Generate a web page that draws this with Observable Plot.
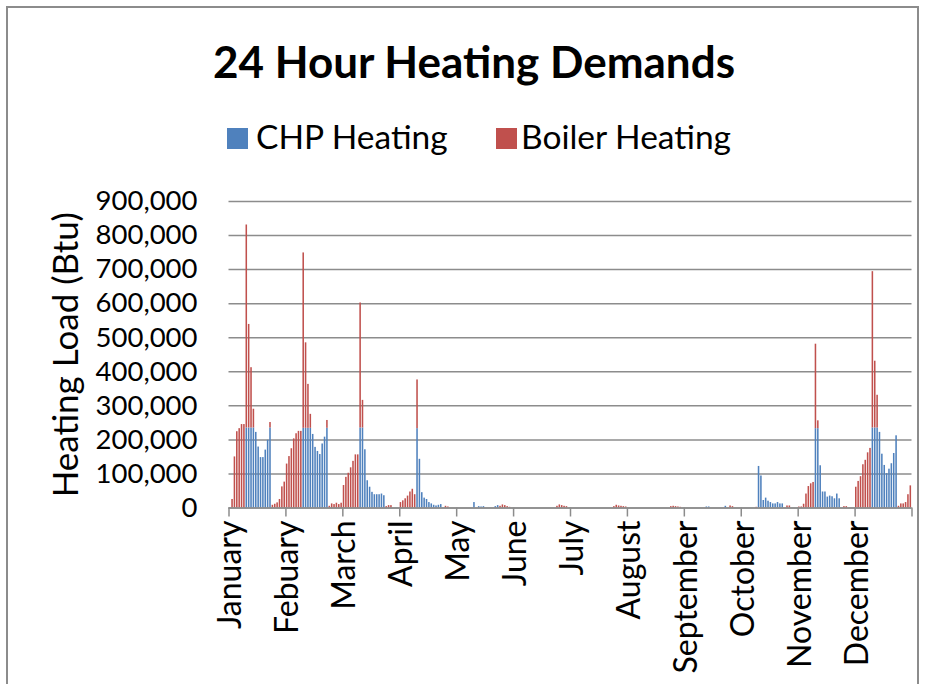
<!DOCTYPE html>
<html>
<head>
<meta charset="utf-8">
<script src="https://cdn.jsdelivr.net/npm/d3@7"></script>
<script src="https://cdn.jsdelivr.net/npm/@observablehq/plot@0.6"></script>
<style>
  html, body { margin: 0; padding: 0; background: #fff; }
  #chart { position: relative; width: 928px; height: 684px; overflow: hidden; font-family: Lato, "Open Sans", sans-serif; color: #000; }
  #border { position: absolute; left: 6px; top: 6px; width: 913px; height: 720px; border: 2px solid #8c8c8c; box-sizing: border-box; }
  #title { position: absolute; left: 0; width: 948px; text-align: center; top: 39px; font-size: 44px; line-height: 44px; font-weight: bold; white-space: nowrap; }
  .sw { position: absolute; width: 21px; height: 21px; }
  .lg { position: absolute; font-size: 33.5px; line-height: 33.5px; white-space: nowrap; }
  #plot { position: absolute; left: 0; top: 170px; }
</style>
</head>
<body>
<div id="chart">
  <div id="border"></div>
  <div id="title">24 Hour Heating Demands</div>
  <div class="sw" style="left:227px;top:128px;background:#4F81BD"></div>
  <div class="lg" style="left:256px;top:120px">CHP Heating</div>
  <div class="sw" style="left:496px;top:128px;background:#C0504D"></div>
  <div class="lg" style="left:521px;top:120px">Boiler Heating</div>
  <div id="plot"></div>
</div>
<script>
// Month labels (as written in the original chart)
const months = ["January","Febuary","March","April","May","June","July","August","September","October","November","December"];
const hoursPerMonth = 24;

// CHP heating load, kBtu, 24 hourly values per month
const chpHeating = [
  0,0,0,0,0,0,0,235,235,235,235,222,179,148,148,170,199,235,0,0,0,0,0,0,   // Jan
  0,0,0,0,0,0,0,234,234,234,234,216,178,166,157,188,208,234,0,0,0,0,0,0,   // Feb
  0,0,0,0,0,0,0,235,235,171,80,61,46,39,39,39,41,36,0,0,0,0,0,0,           // Mar
  0,0,0,0,0,0,0,233,143,45,29,25,16,12,8,6,8,10,0,0,0,0,0,0,               // Apr
  0,0,0,0,0,0,0,16,0,4,3,4,0,0,0,0,4,7,0,0,0,0,0,0,                        // May
  0,0,0,0,0,0,0,0,0,0,0,0,0,0,0,0,0,0,0,0,0,0,0,0,                         // Jun
  0,0,0,0,0,0,0,0,0,0,0,0,0,0,0,0,0,0,0,0,0,0,0,0,                         // Jul
  0,0,0,0,0,0,0,0,0,0,0,0,0,0,0,0,0,0,0,0,0,0,0,0,                         // Aug
  0,0,0,0,0,0,0,0,0,3,3,0,0,0,0,0,0,5,0,0,0,0,0,0,                         // Sep
  0,0,0,0,0,0,0,122,94,22,29,20,16,12,12,16,12,12,0,0,0,0,0,0,             // Oct
  0,0,0,0,0,0,0,233,233,124,47,47,32,35,33,27,41,27,0,0,0,0,0,0,           // Nov
  0,0,0,0,0,0,0,235,235,235,222,158,125,101,114,130,160,212,0,0,0,0,0,0    // Dec
];

// Boiler heating load, kBtu, 24 hourly values per month
const boilerHeating = [
  0,25,150,224,233,245,245,596,304,177,55,0,0,0,0,0,0,16,8,11,15,25,62,76,         // Jan
  129,151,174,203,218,225,225,515,251,129,41,0,0,0,0,0,0,23,5,12,10,14,10,14,      // Feb
  66,90,102,118,137,156,156,367,81,0,0,0,0,0,0,0,0,0,4,7,7,0,0,0,                  // Mar
  16,21,27,35,47,55,39,143,0,0,0,0,0,0,0,0,0,0,0,5,3,0,0,0,                        // Apr
  0,0,0,0,0,0,0,0,0,0,0,0,0,0,0,0,0,0,5,9,7,4,2,0,                                 // May
  0,0,0,0,0,0,0,0,0,0,0,0,0,0,0,0,0,0,5,9,7,5,4,0,                                 // Jun
  0,0,0,0,0,0,0,0,0,0,0,0,0,0,0,0,0,0,4,8,6,5,4,3,                                 // Jul
  0,0,0,0,0,0,0,0,0,0,0,0,0,0,0,0,0,0,4,5,4,3,2,0,                                 // Aug
  0,0,0,0,0,0,0,0,0,0,0,0,0,0,0,0,0,0,0,6,4,0,0,0,                                 // Sep
  0,0,0,0,0,0,2,0,0,0,0,0,0,0,0,0,0,0,0,6,6,0,0,0,                                 // Oct
  3,3,11,41,63,71,75,248,23,0,0,0,0,0,0,0,0,0,0,4,4,0,0,0,                         // Nov
  61,78,92,127,140,162,175,459,196,96,0,0,0,0,0,0,0,0,5,12,12,16,39,65             // Dec
];

// Y-axis tick values (Btu)
const yTicks = [0,100000,200000,300000,400000,500000,600000,700000,800000,900000];

const KBTU = 1000;
const rows = chpHeating.map((c, i) => ({
  i,
  month: months[Math.floor(i / hoursPerMonth)],
  chp: c * KBTU,
  boiler: boilerHeating[i] * KBTU
}));
const monthRows = months.map((m, j) => ({month: m, start: j * hoursPerMonth}));
const boundaries = d3.range(0, months.length * hoursPerMonth + 1, hoursPerMonth);

const gap = 0.175; // half of Excel-style gap between bars (fraction of a category)
const grey = "#8c8c8c";

const chart = Plot.plot({
  width: 928,
  height: 514,
  marginTop: 31,
  marginBottom: 176.5,
  marginLeft: 228.5,
  marginRight: 16.5,
  style: {fontFamily: "Lato, 'Open Sans', sans-serif", fontSize: "27.5px", color: "#000", background: "transparent"},
  x: {domain: [0, months.length * hoursPerMonth], axis: null},
  y: {domain: [0, 900000], axis: null},
  marks: [
    Plot.ruleY(yTicks, {stroke: grey, strokeWidth: 1.5}),
    Plot.rect(rows, {x1: d => d.i + gap, x2: d => d.i + 1 - gap, y1: 0, y2: d => d.chp, fill: "#4F81BD"}),
    Plot.rect(rows, {x1: d => d.i + gap, x2: d => d.i + 1 - gap, y1: d => d.chp, y2: d => d.chp + d.boiler, fill: "#C0504D"}),
    Plot.ruleY([0], {stroke: grey, strokeWidth: 1.5}),
    Plot.axisX(boundaries, {tickSize: 9, tickFormat: () => "", stroke: grey, strokeWidth: 1.5, strokeOpacity: 1}),
    Plot.axisY(yTicks, {tickSize: 0, tickPadding: 31.5, tickFormat: d3.format(","), fontSize: 27.5, label: null}),
    Plot.text(monthRows, {
      x: d => d.start + 0.5, text: "month", frameAnchor: "bottom",
      rotate: -90, textAnchor: "end", lineAnchor: "middle",
      dy: 12.5, dx: 1, fontSize: 32, fill: "#000"
    }),
    Plot.text(["Heating Load (Btu)"], {
      frameAnchor: "left", rotate: -90, textAnchor: "middle", lineAnchor: "middle",
      dx: -162.5, fontSize: 35, fill: "#000"
    })
  ]
});
document.getElementById("plot").appendChild(chart);
</script>
</body>
</html>
